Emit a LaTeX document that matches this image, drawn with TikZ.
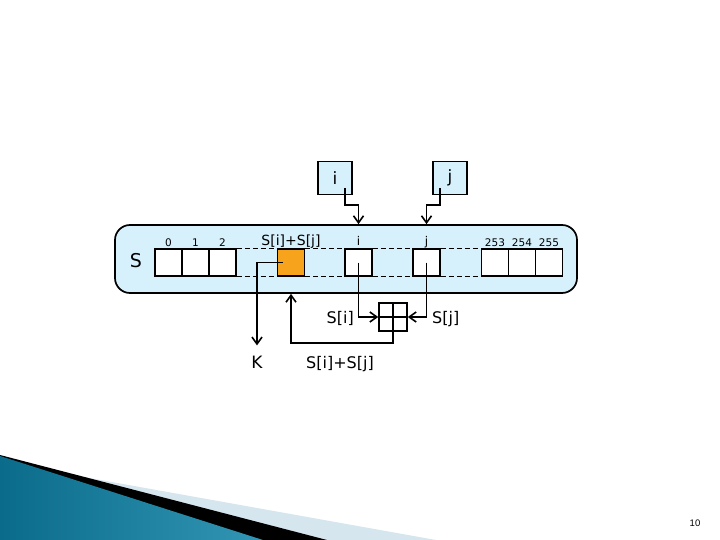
\documentclass[tikz,border=0pt]{standalone}
\usepackage{fontspec}
\setmainfont{DejaVu Sans}
\newfontfamily\pagefont{Liberation Sans}
\usetikzlibrary{
  arrows.meta,
  positioning
}
\definecolor{panelblue}{RGB}{214,241,252}
\definecolor{sumorange}{RGB}{247,163,27}
\definecolor{bandgrey}{RGB}{214,230,238}
\definecolor{tealdark}{RGB}{10,108,138}
\definecolor{teallight}{RGB}{98,200,230}
\tikzset{
  panel/.style={
    draw,
    line width=1.7pt,
    fill=panelblue,
    rounded corners=15pt,
    minimum width=462pt,
    minimum height=68pt
  },
  cell/.style={
    draw,
    line width=1.6pt,
    fill=white,
    minimum width=27pt,
    minimum height=27pt,
    inner sep=0pt
  },
  topbox/.style={
    cell,
    fill=panelblue,
    minimum width=34pt,
    minimum height=33pt,
    font=\fontsize{17}{19}\selectfont
  },
  link/.style={
    draw,
    line width=1.6pt,
    -{Straight Barb[length=7pt,width=10pt]}
  },
  rail/.style={
    line width=1.1pt,
    dash pattern=on 5pt off 3pt
  },
  idx/.style={anchor=base, inner sep=0pt, font=\fontsize{10.5}{12}\selectfont},
  lbl/.style={anchor=base, inner sep=0pt, font=\fontsize{16}{18}\selectfont},
  biglbl/.style={anchor=base, inner sep=0pt, font=\fontsize{19}{22}\selectfont}
}

\begin{document}
\begin{tikzpicture}[x=1pt, y=-1pt]
  \useasboundingbox (0,0) rectangle (720,540);
  % slide corner
  \fill[bandgrey] (0,462) -- (436,540) -- (0,540) -- cycle;
  \fill[black] (0,455) -- (327,540) -- (0,540) -- cycle;
  \shade[left color=tealdark, middle color=teallight, right color=tealdark!55!teallight]
    (0,456) -- (263,540) -- (0,540) -- cycle;
  % state array S
  \node[panel] (arr) at (346,259) {};
  \node[biglbl] (S) at (136,267) {S};
  \foreach \n/\x in {0/168.5, 1/195.5, 2/222.5, 253/495, 254/522, 255/549} {
    \node[cell] (c\n) at (\x,262.5) {};
    \node[idx] (l\n) at (\x,246) {\n};
  }
  \node[cell, fill=sumorange] (sum) at (291,262.5) {};
  \node[cell] (ci) at (358.5,262.5) {};
  \node[cell] (cj) at (426.5,262.5) {};
  \foreach \a/\b in {c2/sum, sum/ci, ci/cj, cj/c253} {
    \draw[rail] (\a.north east) -- (\b.north west);
    \draw[rail] (\a.south east) -- (\b.south west);
  }
  \node[lbl, font=\fontsize{14}{16}\selectfont] (lsum) at (291,245) {S[i]+S[j]};
  \node[idx, font=\fontsize{12}{14}\selectfont] (li) at (358.5,245.5) {i};
  \node[idx, font=\fontsize{12}{14}\selectfont] (lj) at (426.5,245.5) {j};
  % index registers
  \node[topbox] (bi) at (335,178) {i};
  \node[topbox] (bj) at (450,178) {j};
  \draw[link] ([shift={(10,10)}]bi.center) -- ++(0,17) -| (li |- arr.north);
  \draw[link] ([shift={(-10,10)}]bj.center) -- ++(0,17) -| (lj |- arr.north);
  % adder
  \node[cell, minimum width=28pt, minimum height=28pt] (mix) at (393,317) {};
  \draw[line width=1.6pt] (mix.west) -- (mix.east) (mix.north) -- (mix.south);
  \draw[link] (ci.center) |- (mix.west);
  \draw[link] (cj.center) |- (mix.east);
  \draw[link] (mix.center) -- ++(0,26) -| (sum |- arr.south);
  \node[lbl, anchor=base east] (lsi) at (354,323) {S[i]};
  \node[lbl, anchor=base west] (lsj) at (432,323) {S[j]};
  \node[lbl] (lout) at (340,368) {S[i]+S[j]};
  % output byte
  \node[biglbl, font=\fontsize{17}{20}\selectfont] (K) at (257,368) {K};
  \draw[link, shorten >=10pt] ([xshift=-8pt]sum.center) -| (K.north);
  \node[inner sep=0pt, font=\pagefont\fontsize{9.5}{11}\selectfont] (page) at (695,523.5) {10};
\end{tikzpicture}
\end{document}
